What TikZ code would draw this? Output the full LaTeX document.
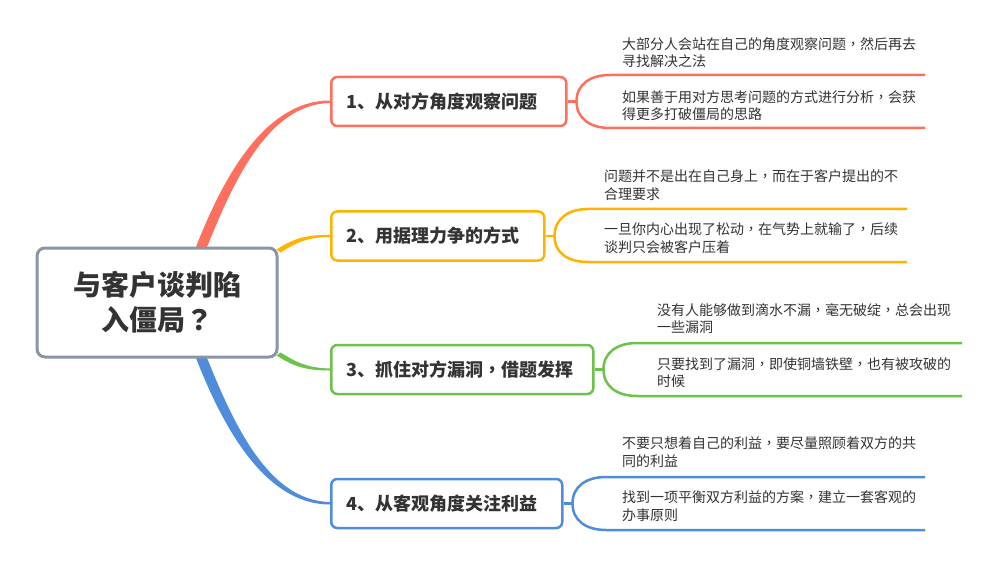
\documentclass[tikz,border=0pt]{standalone}
\usepackage{fontspec}
\setmainfont{Noto Sans CJK SC}
\newfontfamily\tcfont{Noto Sans CJK TC}
\newcommand\zhcomma{{\tcfont ，}}
\newcommand\zhquery{{\tcfont ？}}
\usetikzlibrary{calc,backgrounds}
\definecolor{topicgray}{HTML}{8A95A6}
\definecolor{textgray}{HTML}{333333}
\definecolor{coral}{HTML}{FF6F5E}
\definecolor{amber}{HTML}{FFB300}
\definecolor{leafgreen}{HTML}{6CC24A}
\definecolor{skyblue}{HTML}{4F8CD9}
\begin{document}
\begin{tikzpicture}[x=1pt,y=-1pt,
	topicbox/.style={draw=topicgray,line width=3pt,rounded corners=8pt,fill=white,
		minimum width=240pt,minimum height=109pt,align=center,text=textgray,
		font=\fontsize{28}{35}\selectfont\bfseries},
	branchbox/.style={draw=#1,line width=2.5pt,rounded corners=6pt,fill=white,
		minimum height=49pt,inner xsep=15pt,align=left,anchor=west,text=textgray,
		font=\fontsize{18}{22}\selectfont\bfseries},
	leaf/.style={anchor=west,inner sep=0pt,align=left,text=textgray,
		font=\fontsize{14}{17.5}\selectfont},
	bracket/.style={draw=#1,line width=2.5pt}]
	\useasboundingbox (0,0) rectangle (1001,580);
	% central topic and the four branches
	\node[topicbox] (topic) at (157,302.5) {与客户谈判陷\\入僵局\zhquery};
	\node[branchbox=coral,text width=205pt] (b1) at (330,101.5) {1、从对方角度观察问题};
	\node[branchbox=amber,text width=183pt] (b2) at (330,236) {2、用据理力争的方式};
	\node[branchbox=leafgreen,text width=232pt] (b3) at (330,369.5) {3、抓住对方漏洞\zhcomma 借题发挥};
	\node[branchbox=skyblue,text width=201pt] (b4) at (330,503.5) {4、从客观角度关注利益};
	% leaves
	\node[leaf] (l1a) at (622,52.5) {大部分人会站在自己的角度观察问题\zhcomma 然后再去\\寻找解决之法};
	\node[leaf] (l1b) at (622,105.5) {如果善于用对方思考问题的方式进行分析\zhcomma 会获\\得更多打破僵局的思路};
	\node[leaf] (l2a) at (604,185) {问题并不是出在自己身上\zhcomma 而在于客户提出的不\\合理要求};
	\node[leaf] (l2b) at (604,238) {一旦你内心出现了松动\zhcomma 在气势上就输了\zhcomma 后续\\谈判只会被客户压着};
	\node[leaf] (l3a) at (657,318.5) {没有人能够做到滴水不漏\zhcomma 毫无破绽\zhcomma 总会出现\\一些漏洞};
	\node[leaf] (l3b) at (657,372.5) {只要找到了漏洞\zhcomma 即使铜墙铁壁\zhcomma 也有被攻破的\\时候};
	\node[leaf] (l4a) at (622,452) {不要只想着自己的利益\zhcomma 要尽量照顾着双方的共\\同的利益};
	\node[leaf] (l4b) at (622,506) {找到一项平衡双方利益的方案\zhcomma 建立一套客观的\\办事原则};
	% ends of the leaf lines
	\coordinate (e1a) at (925,75);   \coordinate (e1b) at (925,128);
	\coordinate (e2a) at (907,209);  \coordinate (e2b) at (907,262);
	\coordinate (e3a) at (962,343);  \coordinate (e3b) at (962,396);
	\coordinate (e4a) at (925,477);  \coordinate (e4b) at (925,530);
	% tapered connectors behind the boxes
	\begin{pgfonlayer}{background}
		\fill[white] (0,0) rectangle (1001,580);
		\fill[coral] ($(topic.north)+(38,3)$) .. controls (220,185) and (262,100.5) .. ($(b1.west)+(0,-1)$)
			-- ($(b1.west)+(0,1.5)$) .. controls (266,104) and (231,188) .. ($(topic.north)+(49,3)$) -- cycle;
		\fill[amber] ($(topic.north east)+(-2,3)$) .. controls (293,239) and (305,234.5) .. ($(b2.west)+(0,-1)$)
			-- ($(b2.west)+(0,1)$) .. controls (307,237) and (296,243) .. ($(topic.north east)+(2,6)$) -- cycle;
		\fill[leafgreen] ($(topic.south east)+(-2,-3)$) .. controls (293,366) and (305,370.5) .. ($(b3.west)+(0,1)$)
			-- ($(b3.west)+(0,-1)$) .. controls (307,368) and (296,362) .. ($(topic.south east)+(2,-6)$) -- cycle;
		\fill[skyblue] ($(topic.south)+(38,-3)$) .. controls (220,420) and (262,504.5) .. ($(b4.west)+(0,1)$)
			-- ($(b4.west)+(0,-1.5)$) .. controls (266,501) and (231,417) .. ($(topic.south)+(49,-3)$) -- cycle;
	\end{pgfonlayer}
	% brackets to the leaves
	\draw[bracket=coral] (b1.east) -- ++(9,0) coordinate (j1);
	\draw[bracket=coral] (j1) .. controls +(0,-17) and +(-20,0) .. (610,75) -- (e1a);
	\draw[bracket=coral] (j1) .. controls +(0,17) and +(-20,0) .. (610,128) -- (e1b);
	\draw[bracket=amber] (b2.east) -- ++(9,0) coordinate (j2);
	\draw[bracket=amber] (j2) .. controls +(0,-17) and +(-20,0) .. (588,209) -- (e2a);
	\draw[bracket=amber] (j2) .. controls +(0,17) and +(-20,0) .. (588,262) -- (e2b);
	\draw[bracket=leafgreen] (b3.east) -- ++(9,0) coordinate (j3);
	\draw[bracket=leafgreen] (j3) .. controls +(0,-17) and +(-20,0) .. (637,343) -- (e3a);
	\draw[bracket=leafgreen] (j3) .. controls +(0,17) and +(-20,0) .. (637,396) -- (e3b);
	\draw[bracket=skyblue] (b4.east) -- ++(9,0) coordinate (j4);
	\draw[bracket=skyblue] (j4) .. controls +(0,-17) and +(-20,0) .. (606,477) -- (e4a);
	\draw[bracket=skyblue] (j4) .. controls +(0,17) and +(-20,0) .. (606,530) -- (e4b);
\end{tikzpicture}
\end{document}
